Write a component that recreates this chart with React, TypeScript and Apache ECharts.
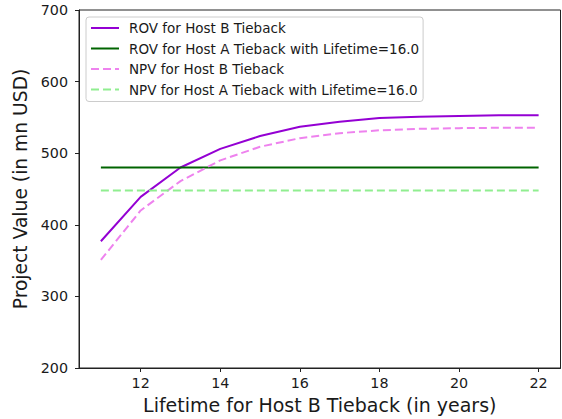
import React, { useEffect, useRef } from "react";
import * as echarts from "echarts";

// Lifetime of the Host B tieback, in years
const lifetimes = [11, 12, 13, 14, 15, 16, 17, 18, 19, 20, 21, 22];
// Project values in mn USD
const rovHostB = [377, 439, 480, 506, 524, 537, 544, 549, 551, 552, 553, 553];
const npvHostB = [351, 420, 461, 490, 509, 521, 528, 532, 534, 535, 535.5, 535.5];
const rovHostA = 480;
const npvHostA = 448;
const xTicks = [12, 14, 16, 18, 20, 22];

const seriesNames = [
  "ROV for Host B Tieback",
  "ROV for Host A Tieback with Lifetime=16.0",
  "NPV for Host B Tieback",
  "NPV for Host A Tieback with Lifetime=16.0",
];

const FONT = "DejaVu Sans";
const INK = "#1a1a1a";

export default function App() {
  const ref = useRef<HTMLDivElement>(null);

  useEffect(() => {
    if (!ref.current) return;
    const chart = echarts.init(ref.current, undefined, { renderer: "svg" });
    const pair = (vals: number[]) => lifetimes.map((x, i) => [x, vals[i]]);
    const flat = (v: number) => lifetimes.map((x) => [x, v]);

    chart.setOption({
      animation: false,
      backgroundColor: "#ffffff",
      textStyle: { fontFamily: FONT },
      grid: {
        left: 79,
        right: 1.5,
        top: 10,
        bottom: 50,
        show: true,
        borderColor: "#222",
        borderWidth: 1,
        backgroundColor: "transparent",
      },
      legend: {
        orient: "vertical",
        left: 86,
        top: 17,
        padding: [4, 4, 5, 4],
        itemWidth: 28,
        itemHeight: 14,
        itemGap: 6.5,
        backgroundColor: "rgba(255,255,255,0.85)",
        borderColor: "#cccccc",
        borderWidth: 1,
        borderRadius: 3,
        itemStyle: { opacity: 0 },
        textStyle: {
          fontFamily: FONT,
          fontSize: 13.5,
          color: INK,
          padding: [0, 0, 0, 5],
        },
        data: seriesNames,
      },
      xAxis: {
        type: "value",
        min: 10.45,
        max: 22.55,
        name: "Lifetime for Host B Tieback (in years)",
        nameLocation: "middle",
        nameGap: 27,
        nameTextStyle: { fontFamily: FONT, fontSize: 19, color: INK },
        splitLine: { show: false },
        axisLine: { show: true, lineStyle: { color: "#222", width: 1 } },
        axisTick: {
          show: true,
          length: 4,
          customValues: xTicks,
          lineStyle: { color: "#222" },
        },
        axisLabel: {
          customValues: xTicks,
          margin: 8,
          fontFamily: FONT,
          fontSize: 14.3,
          color: INK,
        },
      },
      yAxis: {
        type: "value",
        min: 200,
        max: 700,
        interval: 100,
        name: "Project Value (in mn USD)",
        nameLocation: "middle",
        nameGap: 47,
        nameTextStyle: { fontFamily: FONT, fontSize: 18.7, color: INK },
        splitLine: { show: false },
        axisLine: { show: true, lineStyle: { color: "#222", width: 1 } },
        axisTick: { show: true, length: 4, lineStyle: { color: "#222" } },
        axisLabel: {
          margin: 11,
          fontFamily: FONT,
          fontSize: 14.3,
          color: INK,
        },
      },
      series: [
        {
          name: seriesNames[0],
          type: "line",
          data: pair(rovHostB),
          showSymbol: false,
          symbol: "none",
          lineStyle: { color: "#9400d3", width: 2 },
          itemStyle: { color: "#9400d3" },
        },
        {
          name: seriesNames[1],
          type: "line",
          data: flat(rovHostA),
          showSymbol: false,
          symbol: "none",
          lineStyle: { color: "#006400", width: 2 },
          itemStyle: { color: "#006400" },
        },
        {
          name: seriesNames[2],
          type: "line",
          data: pair(npvHostB),
          showSymbol: false,
          symbol: "none",
          lineStyle: { color: "#ee82ee", width: 2, type: [8, 4] },
          itemStyle: { color: "#ee82ee" },
        },
        {
          name: seriesNames[3],
          type: "line",
          data: flat(npvHostA),
          showSymbol: false,
          symbol: "none",
          lineStyle: { color: "#90ee90", width: 2, type: [8, 4] },
          itemStyle: { color: "#90ee90" },
        },
      ],
    });

    return () => chart.dispose();
  }, []);

  return (
    <div
      ref={ref}
      style={{ position: "fixed", left: 0, top: 0, width: 562, height: 419 }}
    />
  );
}
